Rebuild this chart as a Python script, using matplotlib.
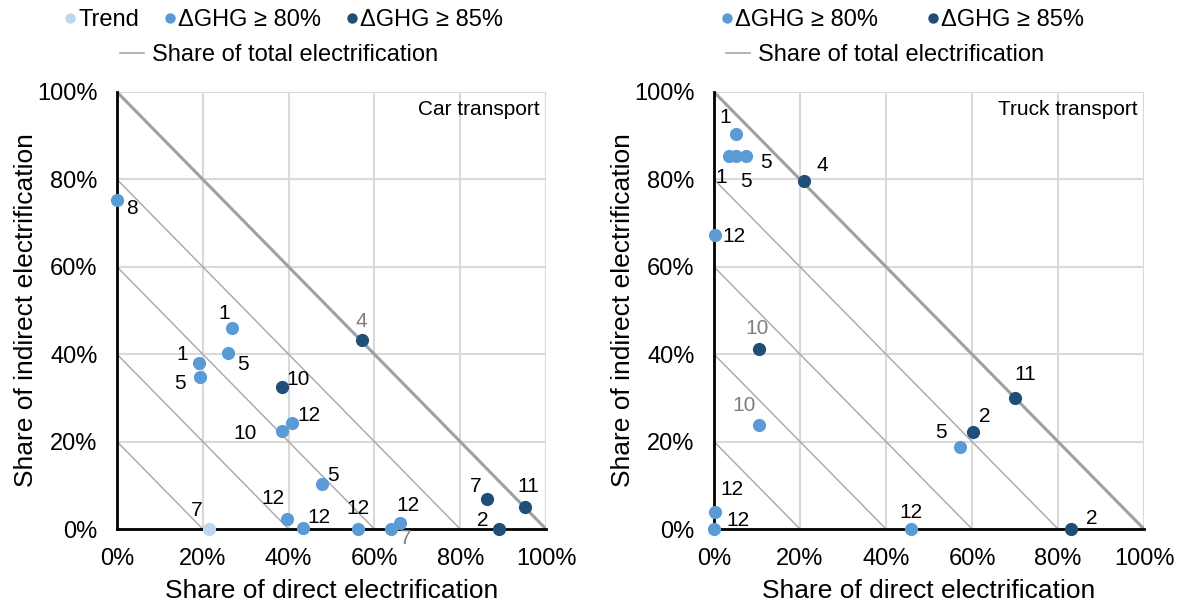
import matplotlib
matplotlib.use("Agg")
import matplotlib.pyplot as plt
from matplotlib.lines import Line2D
import numpy as np

plt.rcParams['font.family'] = ['Liberation Sans', 'DejaVu Sans']

# ---------------- data ----------------
# categories: 0 = Trend, 1 = dGHG >= 80%, 2 = dGHG >= 85%
car_x = [0.214, 0.0, 0.269, 0.259, 0.190, 0.193, 0.385, 0.409, 0.385, 0.479,
         0.396, 0.434, 0.561, 0.639, 0.660, 0.572, 0.863, 0.952, 0.890]
car_y = [0.0, 0.753, 0.460, 0.403, 0.379, 0.348, 0.325, 0.243, 0.224, 0.103,
         0.024, 0.002, 0.0, 0.0, 0.013, 0.432, 0.069, 0.050, 0.0]
car_cat = [0, 1, 1, 1, 1, 1, 2, 1, 1, 1, 1, 1, 1, 1, 1, 2, 2, 2, 2]
car_lab = ['7', '8', '1', '5', '1', '5', '10', '12', '10', '5',
           '12', '12', '12', '7', '12', '4', '7', '11', '2']
car_gray = [0, 0, 0, 0, 0, 0, 0, 0, 0, 0, 0, 0, 0, 1, 0, 1, 0, 0, 0]

truck_x = [0.052, 0.035, 0.052, 0.075, 0.209, 0.002, 0.104, 0.104, 0.701,
           0.602, 0.571, 0.002, 0.0, 0.457, 0.830]
truck_y = [0.903, 0.854, 0.854, 0.854, 0.796, 0.672, 0.412, 0.239, 0.300,
           0.221, 0.188, 0.040, 0.0, 0.0, 0.0]
truck_cat = [1, 1, 1, 1, 2, 1, 2, 1, 2, 2, 1, 1, 1, 1, 2]
truck_lab = ['1', '1', '5', '5', '4', '12', '10', '10', '11', '2', '5',
             '12', '12', '12', '2']
truck_gray = [0, 0, 0, 0, 0, 0, 1, 1, 0, 0, 0, 0, 0, 0, 0]

# label offsets (pixels, right / up)
car_off = [(-12, 19), (15, -9), (-8, 14), (15, -12), (-16, 9), (-20, -7),
           (16, 7), (16, 7), (-37, -2), (10, 8), (-14, 20), (16, 11),
           (0, 20), (15, -10), (8, 18), (-1, 19), (-12, 12), (3, 21), (-16, 8)]
truck_off = [(-11, 17), (-8, -22), (10, -26), (20, -7), (18, 16), (19, -1),
             (-2, 20), (-15, 19), (10, 23), (12, 16), (-19, 14), (17, 22),
             (24, 9), (0, 17), (21, 11)]

ticks = [0, 0.2, 0.4, 0.6, 0.8, 1.0]
tick_labels = ['0%', '20%', '40%', '60%', '80%', '100%']
diag_levels = [0.2, 0.4, 0.6, 0.8]

colors = ['#BDD7EE', '#5B9BD5', '#1F4E79']
cat_names = ['Trend', '\u0394GHG \u2265 80%', '\u0394GHG \u2265 85%']

fig = plt.figure(figsize=(11.82, 6.08), dpi=100)
ax1 = fig.add_axes([117 / 1182, 79 / 608, 429 / 1182, 437 / 608])
ax2 = fig.add_axes([714 / 1182, 79 / 608, 430 / 1182, 437 / 608])


def draw(ax, xs, ys, cats, labs, grays, offs, title, legend_cats,
         cx1, cx2, colspace):
    ax.set_xlim(0, 1)
    ax.set_ylim(0, 1)
    ax.set_xticks(ticks)
    ax.set_yticks(ticks)
    ax.set_xticklabels(tick_labels)
    ax.set_yticklabels(tick_labels)
    ax.tick_params(length=0, labelsize=17, pad=14, colors='#000000')
    ax.grid(True, color='#d9d9d9', lw=1.5, zorder=0)
    ax.set_axisbelow(True)
    for s in ['top', 'right']:
        ax.spines[s].set_visible(False)
    for s in ['left', 'bottom']:
        ax.spines[s].set_linewidth(2)
        ax.spines[s].set_color('#000000')
        ax.spines[s].set_zorder(2)
    # diagonal iso-lines
    for lv in diag_levels:
        ax.plot([0, lv], [lv, 0], color='#a6a6a6', lw=1.0, zorder=1)
    ax.plot([0, 1], [1, 0], color='#a0a0a0', lw=2.2, zorder=1)
    # points
    for x, y, c, l, g, o in zip(xs, ys, cats, labs, grays, offs):
        ax.plot(x, y, 'o', ms=9.5, color=colors[c], mec='none', zorder=5,
                clip_on=False)
        ax.annotate(l, (x, y), xytext=o, textcoords='offset pixels',
                    ha='center', va='center', fontsize=15,
                    color='#7f7f7f' if g else '#000000', zorder=6,
                    annotation_clip=False)
    ax.text(0.985, 0.982, title, transform=ax.transAxes, ha='right', va='top',
            fontsize=15)
    ax.set_xlabel('Share of direct electrification', fontsize=19, labelpad=6)
    ax.set_ylabel('Share of indirect electrification', fontsize=19,
                  labelpad=-1)
    # legends
    h1 = [Line2D([], [], ls='none', marker='o', ms=7.5, color=colors[c],
                 mec='none') for c in legend_cats]
    leg1 = ax.legend(h1, [cat_names[c] for c in legend_cats],
                     ncol=len(legend_cats), loc='center',
                     bbox_to_anchor=(cx1, 1.0 + 72 / 437),
                     frameon=False, fontsize=17, handlelength=0.6,
                     handletextpad=0.05, columnspacing=colspace, borderpad=0)
    ax.add_artist(leg1)
    h2 = [Line2D([], [], color='#a6a6a6', lw=1.2)]
    ax.legend(h2, ['Share of total electrification'], loc='center',
              bbox_to_anchor=(cx2, 1.0 + 37 / 437),
              frameon=False, fontsize=17, handlelength=1.0,
              handletextpad=0.35, borderpad=0)


draw(ax1, car_x, car_y, car_cat, car_lab, car_gray, car_off, 'Car transport',
     [0, 1, 2], 0.387, 0.378, 1.0)
draw(ax2, truck_x, truck_y, truck_cat, truck_lab, truck_gray, truck_off,
     'Truck transport', [1, 2], 0.437, 0.398, 2.0)

fig.savefig('out.png', dpi=100)
